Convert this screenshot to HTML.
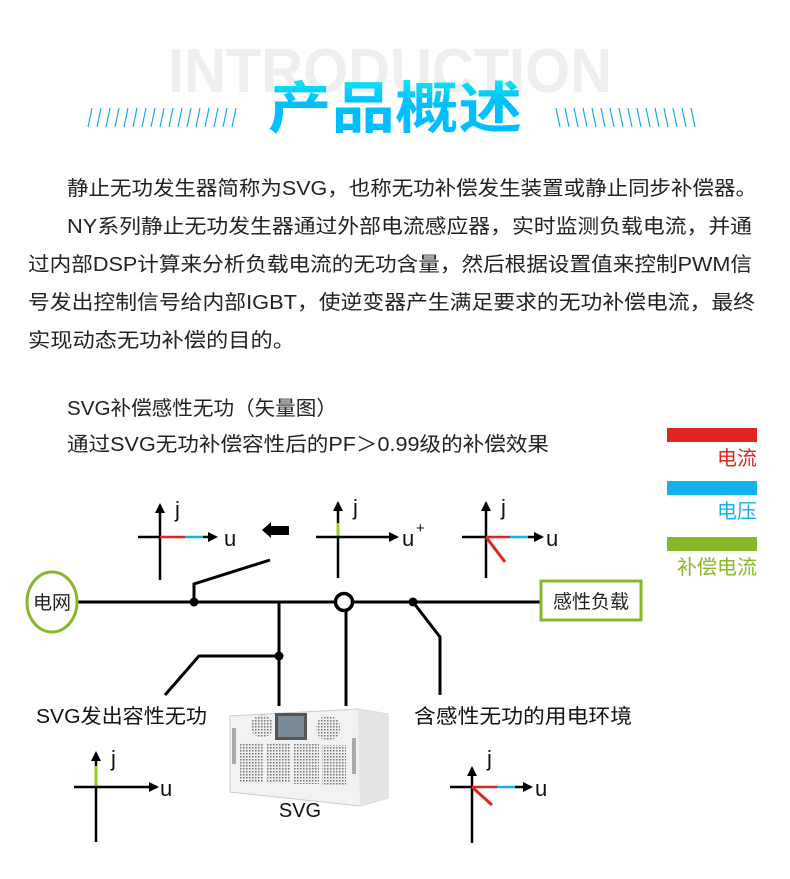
<!DOCTYPE html>
<html><head><meta charset="utf-8"><style>
html,body{margin:0;padding:0;background:#fff;width:790px;height:879px;overflow:hidden}
svg{display:block}
text{font-family:"Liberation Sans","Noto Sans CJK SC",sans-serif}
</style></head><body>
<svg width="790" height="879" viewBox="0 0 790 879" xmlns="http://www.w3.org/2000/svg">
<defs>
<marker id="ar" markerWidth="10" markerHeight="10" refX="8" refY="5" orient="auto" markerUnits="userSpaceOnUse"><path d="M0,0 L10,5 L0,10 Z" fill="#000"/></marker>
<linearGradient id="tg" x1="0" y1="0" x2="0" y2="1"><stop offset="0" stop-color="#10e8f4"/><stop offset="0.4" stop-color="#00c0ff"/><stop offset="1" stop-color="#00bcff"/></linearGradient>
<pattern id="mesh" width="3" height="3" patternUnits="userSpaceOnUse"><rect width="3" height="3" fill="#eee"/><rect width="1.5" height="1.5" fill="#777"/></pattern>
</defs>
<text x="390" y="92" text-anchor="middle" font-size="62" font-weight="bold" fill="#efeff0" textLength="444" lengthAdjust="spacingAndGlyphs">INTRODUCTION</text>
<text x="395" y="128" text-anchor="middle" font-size="56" font-weight="bold" fill="url(#tg)" textLength="254" lengthAdjust="spacingAndGlyphs">产品概述</text>
<g stroke="#1aa8f0" stroke-width="1.2">
<path d="M88,127 L92,108 M97,127 L101,108 M106,127 L110,108 M115,127 L119,108 M124,127 L128,108 M133,127 L137,108 M142,127 L146,108 M151,127 L155,108 M160,127 L164,108 M169,127 L173,108 M178,127 L182,108 M187,127 L191,108 M196,127 L200,108 M205,127 L209,108 M214,127 L218,108 M223,127 L227,108 M232,127 L236,108"/>
<path d="M556,108 L560,127 M565,108 L569,127 M574,108 L578,127 M583,108 L587,127 M592,108 L596,127 M601,108 L605,127 M610,108 L614,127 M619,108 L623,127 M628,108 L632,127 M637,108 L641,127 M646,108 L650,127 M655,108 L659,127 M664,108 L668,127 M673,108 L677,127 M682,108 L686,127 M691,108 L695,127"/>
</g>
<g font-size="20" fill="#222">
<text x="67" y="195" textLength="690" lengthAdjust="spacingAndGlyphs">静止无功发生器简称为SVG，也称无功补偿发生装置或静止同步补偿器。</text>
<text x="67" y="233" textLength="685" lengthAdjust="spacingAndGlyphs">NY系列静止无功发生器通过外部电流感应器，实时监测负载电流，并通</text>
<text x="28" y="271" textLength="724" lengthAdjust="spacingAndGlyphs">过内部DSP计算来分析负载电流的无功含量，然后根据设置值来控制PWM信</text>
<text x="28" y="309" textLength="727" lengthAdjust="spacingAndGlyphs">号发出控制信号给内部IGBT，使逆变器产生满足要求的无功补偿电流，最终</text>
<text x="28" y="347" textLength="267" lengthAdjust="spacingAndGlyphs">实现动态无功补偿的目的。</text>
<text x="67" y="415" textLength="270" lengthAdjust="spacingAndGlyphs">SVG补偿感性无功（矢量图）</text>
<text x="67" y="451" textLength="482" lengthAdjust="spacingAndGlyphs">通过SVG无功补偿容性后的PF＞0.99级的补偿效果</text>
</g>
<rect x="667" y="428" width="90" height="14" fill="#e02420"/>
<text x="757" y="465" text-anchor="end" font-size="20" fill="#e02420">电流</text>
<rect x="667" y="481" width="90" height="14" fill="#10b4ec"/>
<text x="757" y="518" text-anchor="end" font-size="20" fill="#10b4ec">电压</text>
<rect x="667" y="537" width="90" height="14" fill="#88b828"/>
<text x="757" y="574" text-anchor="end" font-size="20" fill="#88b828">补偿电流</text>
<g stroke="#000" stroke-width="3" fill="none">
<line x1="78" y1="602" x2="335" y2="602"/>
<line x1="353" y1="602" x2="540" y2="602"/>
<polyline points="194,602 194,584 270,560"/>
<line x1="279" y1="602" x2="279" y2="706"/>
<polyline points="279,656 199,656 165,695"/>
<line x1="346" y1="611" x2="346" y2="706"/>
<polyline points="413,602 440,637 440,695"/>
</g>
<circle cx="344" cy="602" r="8.5" fill="#fff" stroke="#000" stroke-width="3.5"/>
<circle cx="194" cy="602" r="4.5"/><circle cx="279" cy="656" r="4.5"/><circle cx="413" cy="602" r="4.5"/>
<ellipse cx="52" cy="602" rx="25" ry="30" fill="#fff" stroke="#88b828" stroke-width="3"/>
<text x="52" y="609" text-anchor="middle" font-size="19" fill="#222">电网</text>
<rect x="541" y="581" width="100" height="39" fill="#fff" stroke="#88b828" stroke-width="3"/>
<text x="591" y="608" text-anchor="middle" font-size="19" fill="#222">感性负载</text>
<g stroke-width="2.5" fill="none">
<line x1="160" y1="580" x2="160" y2="505" stroke="#000" marker-end="url(#ar)"/>
<line x1="138" y1="537" x2="160" y2="537" stroke="#000"/>
<line x1="160" y1="537" x2="185" y2="537" stroke="#e02420"/>
<line x1="185" y1="537" x2="203" y2="537" stroke="#10b4ec"/>
<line x1="203" y1="537" x2="216" y2="537" stroke="#000" marker-end="url(#ar)"/>
<line x1="338" y1="578" x2="338" y2="503" stroke="#000" marker-end="url(#ar)"/>
<line x1="338" y1="537" x2="338" y2="523" stroke="#9ad020" stroke-width="3"/>
<line x1="316" y1="537" x2="397" y2="537" stroke="#000" marker-end="url(#ar)"/>
<line x1="486" y1="578" x2="486" y2="503" stroke="#000" marker-end="url(#ar)"/>
<line x1="462" y1="537" x2="486" y2="537" stroke="#000"/>
<line x1="486" y1="537" x2="510" y2="537" stroke="#e02420"/>
<line x1="510" y1="537" x2="528" y2="537" stroke="#10b4ec"/>
<line x1="528" y1="537" x2="542" y2="537" stroke="#000" marker-end="url(#ar)"/>
<line x1="486" y1="537" x2="505" y2="562" stroke="#e02420" stroke-width="3"/>
<line x1="96" y1="842" x2="96" y2="753" stroke="#000" marker-end="url(#ar)"/>
<line x1="96" y1="787" x2="96" y2="766" stroke="#9ad020" stroke-width="3"/>
<line x1="74" y1="787" x2="157" y2="787" stroke="#000" marker-end="url(#ar)"/>
<line x1="472" y1="843" x2="472" y2="768" stroke="#000" marker-end="url(#ar)"/>
<line x1="450" y1="787" x2="472" y2="787" stroke="#000"/>
<line x1="472" y1="787" x2="497" y2="787" stroke="#e02420"/>
<line x1="497" y1="787" x2="515" y2="787" stroke="#10b4ec"/>
<line x1="515" y1="787" x2="531" y2="787" stroke="#000" marker-end="url(#ar)"/>
<line x1="472" y1="787" x2="492" y2="805" stroke="#e02420" stroke-width="3"/>
</g>
<path d="M262,530 L271,522 L271,526 L289,526 L289,535 L271,535 L271,538 Z" fill="#000"/>
<g font-size="22" fill="#111">
<text x="175" y="517">j</text><text x="224" y="546">u</text>
<text x="353" y="515">j</text><text x="402" y="546">u</text><text x="416" y="533" font-size="15">+</text>
<text x="501" y="515">j</text><text x="546" y="546">u</text>
<text x="111" y="766">j</text><text x="160" y="796">u</text>
<text x="487" y="766">j</text><text x="535" y="796">u</text>
</g>
<g font-size="20" fill="#111">
<text x="36" y="723" textLength="171" lengthAdjust="spacingAndGlyphs">SVG发出容性无功</text>
<text x="414" y="723" textLength="218" lengthAdjust="spacingAndGlyphs">含感性无功的用电环境</text>
<text x="300" y="817" text-anchor="middle">SVG</text>
</g>
<g>
<path d="M230,716 L358,709 L388,714 L388,798 L360,806 L230,792 Z" fill="#f2f2f2" stroke="#ccc"/>
<path d="M358,709 L388,714 L388,798 L360,806 Z" fill="#e4e4e4"/>
<rect x="251" y="715" width="22" height="22" rx="10" fill="url(#mesh)"/>
<rect x="275" y="713" width="32" height="27" fill="#555"/>
<rect x="278" y="716" width="26" height="21" fill="#7a8a96"/>
<rect x="316" y="716" width="24" height="24" rx="11" fill="url(#mesh)"/>
<rect x="240" y="743" width="23" height="40" fill="url(#mesh)"/>
<rect x="266" y="743" width="25" height="40" fill="url(#mesh)"/>
<rect x="294" y="744" width="25" height="40" fill="url(#mesh)"/>
<rect x="322" y="745" width="24" height="40" fill="url(#mesh)"/>
<rect x="232" y="728" width="4" height="36" fill="#aaa"/>
<rect x="352" y="738" width="4" height="36" fill="#aaa"/>
</g>
</svg>
</body></html>
